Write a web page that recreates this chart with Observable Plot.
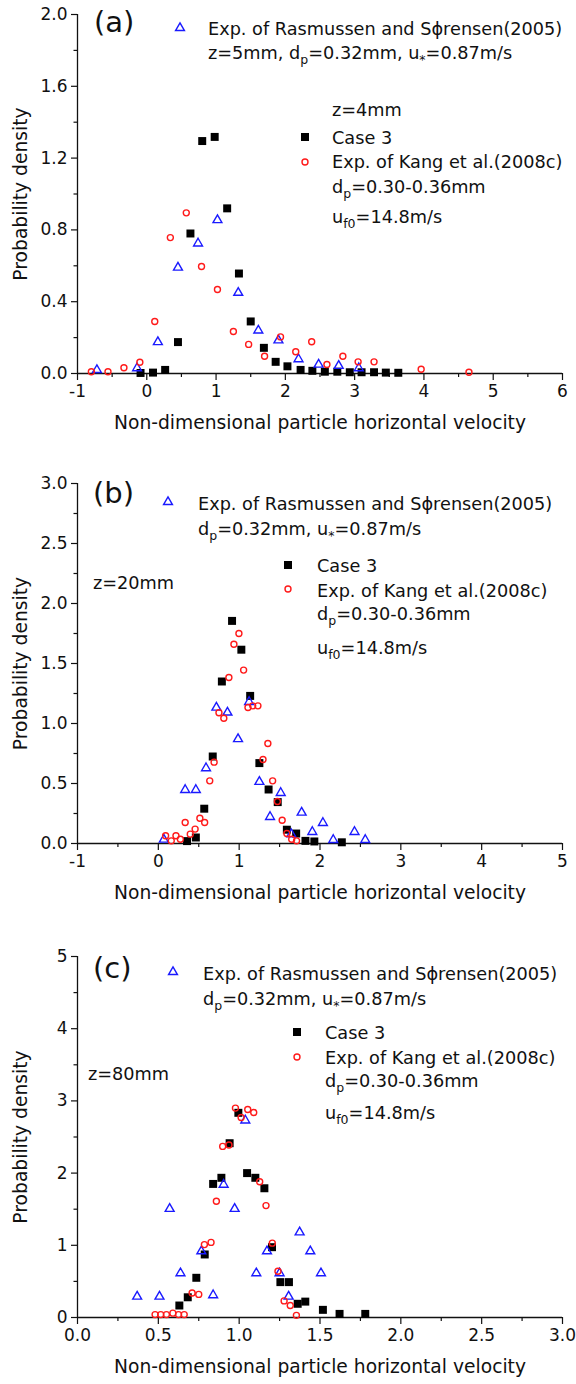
<!DOCTYPE html>
<html>
<head>
<meta charset="utf-8">
<script src="https://cdn.jsdelivr.net/npm/d3@7"></script>
<script src="https://cdn.jsdelivr.net/npm/@observablehq/plot@0.6"></script>
<style>
  html, body { margin: 0; padding: 0; background: white; }
  #chart svg { display: block; }
</style>
</head>
<body>
<div id="chart"></div>
<script>
// ---------------- Data ----------------
// Panel (a), z = 4 mm / 5 mm
const rasA_x = [-0.72, -0.14, 0.16, 0.45, 0.74, 1.02, 1.32, 1.61, 1.90, 2.19, 2.48, 2.77, 3.06];
const rasA_y = [0.02, 0.03, 0.175, 0.59, 0.725, 0.855, 0.45, 0.24, 0.185, 0.08, 0.05, 0.043, 0.03];
const caseA_x = [-0.09, 0.09, 0.265, 0.45, 0.63, 0.80, 0.98, 1.16, 1.33, 1.50, 1.69, 1.86, 2.03, 2.22, 2.39, 2.57, 2.75, 2.93, 3.10, 3.28, 3.45, 3.63];
const caseA_y = [0.003, 0.005, 0.02, 0.175, 0.78, 1.295, 1.318, 0.92, 0.557, 0.29, 0.143, 0.065, 0.04, 0.02, 0.015, 0.01, 0.01, 0.007, 0.007, 0.007, 0.005, 0.004];
const kangA_x = [-0.80, -0.56, -0.33, -0.10, 0.115, 0.34, 0.57, 0.79, 1.02, 1.25, 1.47, 1.70, 1.93, 2.15, 2.38, 2.60, 2.83, 3.05, 3.28, 3.96, 4.65];
const kangA_y = [0.01, 0.01, 0.032, 0.063, 0.29, 0.757, 0.895, 0.596, 0.468, 0.234, 0.162, 0.096, 0.204, 0.121, 0.177, 0.05, 0.096, 0.065, 0.065, 0.024, 0.007];

// Panel (b), z = 20 mm
const rasB_x = [0.068, 0.332, 0.464, 0.59, 0.718, 0.855, 0.986, 1.123, 1.25, 1.382, 1.514, 1.645, 1.773, 1.905, 2.036, 2.164, 2.427, 2.56];
const rasB_y = [0.033, 0.447, 0.447, 0.628, 1.133, 1.092, 0.87, 1.18, 0.514, 0.222, 0.422, 0.078, 0.258, 0.097, 0.172, 0.03, 0.097, 0.03];
const caseB_x = [0.355, 0.464, 0.568, 0.673, 0.786, 0.912, 1.027, 1.136, 1.25, 1.364, 1.477, 1.59, 1.705, 1.82, 1.93, 2.27];
const caseB_y = [0.02, 0.05, 0.29, 0.725, 1.35, 1.855, 1.615, 1.23, 0.67, 0.45, 0.345, 0.115, 0.083, 0.022, 0.017, 0.01];
const kangB_x = [0.09, 0.16, 0.218, 0.273, 0.332, 0.395, 0.455, 0.514, 0.573, 0.636, 0.69, 0.75, 0.81, 0.873, 0.935, 0.997, 1.055, 1.109, 1.168, 1.232, 1.295, 1.355, 1.414, 1.473, 1.532, 1.59, 1.65, 1.71];
const kangB_y = [0.064, 0.022, 0.064, 0.036, 0.175, 0.078, 0.12, 0.21, 0.175, 0.522, 0.678, 1.089, 1.044, 1.383, 1.66, 1.75, 1.445, 1.133, 1.147, 1.147, 0.70, 0.833, 0.522, 0.35, 0.194, 0.083, 0.036, 0.022];

// Panel (c), z = 80 mm
const rasC_x = [0.369, 0.507, 0.57, 0.637, 0.766, 0.839, 0.904, 0.972, 1.038, 1.106, 1.172, 1.25, 1.306, 1.374, 1.44, 1.506];
const rasC_y = [0.29, 0.29, 1.505, 0.614, 0.918, 0.31, 1.84, 1.505, 2.73, 0.614, 0.918, 0.614, 0.29, 1.18, 0.918, 0.614];
const caseC_x = [0.63, 0.682, 0.735, 0.787, 0.839, 0.89, 0.941, 0.995, 1.049, 1.10, 1.156, 1.203, 1.255, 1.308, 1.362, 1.409, 1.518, 1.621, 1.78];
const caseC_y = [0.166, 0.28, 0.55, 0.873, 1.85, 1.935, 2.414, 2.835, 2.0, 1.935, 1.79, 0.974, 0.49, 0.49, 0.19, 0.22, 0.106, 0.05, 0.05];
const kangC_x = [0.48, 0.515, 0.55, 0.59, 0.625, 0.66, 0.709, 0.75, 0.785, 0.826, 0.859, 0.898, 0.937, 0.977, 1.012, 1.053, 1.09, 1.127, 1.166, 1.205, 1.24, 1.278, 1.316, 1.354];
const kangC_y = [0.04, 0.04, 0.04, 0.06, 0.04, 0.04, 0.34, 0.32, 1.01, 1.04, 1.61, 2.37, 2.39, 2.9, 2.77, 2.88, 2.84, 1.88, 1.55, 1.03, 0.64, 0.23, 0.167, 0.03];

// Axis ticks
const xTicksA = [-1, 0, 1, 2, 3, 4, 5, 6];
const xMinorA = [-0.5, 0.5, 1.5, 2.5, 3.5, 4.5, 5.5];
const yTicksA = [0, 0.4, 0.8, 1.2, 1.6, 2.0];
const yMinorA = [0.2, 0.6, 1.0, 1.4, 1.8];
const xTicksB = [-1, 0, 1, 2, 3, 4, 5];
const xMinorB = [-0.5, 0.5, 1.5, 2.5, 3.5, 4.5];
const yTicksB = [0, 0.5, 1.0, 1.5, 2.0, 2.5, 3.0];
const yMinorB = [0.25, 0.75, 1.25, 1.75, 2.25, 2.75];
const xTicksC = [0, 0.5, 1.0, 1.5, 2.0, 2.5, 3.0];
const xMinorC = [0.25, 0.75, 1.25, 1.75, 2.25, 2.75];
const yTicksC = [0, 1, 2, 3, 4, 5];
const yMinorC = [0.5, 1.5, 2.5, 3.5, 4.5];

// Text
const xTitle = "Non-dimensional particle horizontal velocity";
const yTitle = "Probability density";
const rasLabel = "Exp. of Rasmussen and S\u03D5rensen(2005)";
const caseLabel = "Case 3";
const kangLabel = "Exp. of Kang et al.(2008c)";

// ---------------- Styling ----------------
const FONT = "DejaVu Sans";
const INK = "#111";
const BLUE = "#1a1aff";
const RED = "#ff1a1a";
const R_TRI = 3.3, R_CIR = 3.0, R_SQ = 4.5;

const zip = (xs, ys) => xs.map((x, i) => ({x, y: ys[i]}));
const fmtInt = d => String(d);            // plain hyphen minus, as in the reference
const fmt1 = d => d.toFixed(1);

function panel(o) {
  const svg = Plot.plot({
    width: 576,
    height: o.height,
    marginLeft: 77,
    marginRight: 14,
    marginTop: o.marginTop,
    marginBottom: o.marginBottom,
    x: {domain: o.xDomain},
    y: {domain: o.yDomain},
    style: {fontFamily: FONT, fontSize: "17px", color: INK, background: "white", overflow: "visible"},
    marks: [
      Plot.axisX(o.xTicks, {tickSize: 7, tickPadding: 4, tickFormat: o.xFmt, label: null, strokeWidth: 1.2, fontSize: 17}),
      Plot.axisX(o.xMinor, {tickSize: 4, fill: "none", label: null, strokeWidth: 1.2}),
      Plot.axisY(o.yTicks, {tickSize: 6, tickPadding: 4, tickFormat: o.yFmt, label: null, strokeWidth: 1.2, fontSize: 17}),
      Plot.axisY(o.yMinor, {tickSize: 3.5, fill: "none", label: null, strokeWidth: 1.2}),
      Plot.ruleX([o.xDomain[0]], {stroke: INK, strokeWidth: 1.3}),
      Plot.ruleY([o.yDomain[0]], {stroke: INK, strokeWidth: 1.3}),
      Plot.dot(o.cas, {x: "x", y: "y", symbol: "square", r: R_SQ, fill: "#000", stroke: "none"}),
      Plot.dot(o.ras, {x: "x", y: "y", symbol: "triangle", r: R_TRI, fill: "none", stroke: BLUE, strokeWidth: 1.4}),
      Plot.dot(o.kang, {x: "x", y: "y", symbol: "circle", r: R_CIR, fill: "none", stroke: RED, strokeWidth: 1.4}),
      Plot.text([xTitle], {text: d => d, frameAnchor: "bottom", dy: 50, lineAnchor: "middle", fontSize: 18.7, fill: INK}),
      Plot.text([yTitle], {text: d => d, frameAnchor: "left", dx: -56, rotate: -90, lineAnchor: "middle", textAnchor: "middle", fontSize: 18.7, fill: INK})
    ]
  });
  // legend / annotations
  const g = d3.select(svg).append("g")
    .attr("font-family", FONT).attr("fill", INK).attr("text-anchor", "start");
  g.append("text").attr("x", o.tag.x).attr("y", o.tag.y).attr("font-size", 29).text(o.tag.t);
  const sym = (type, r) => d3.symbol(type, r * r * Math.PI)();
  for (const m of o.markers) {
    if (m.kind === "tri") g.append("path").attr("transform", `translate(${m.x},${m.y})`).attr("d", sym(d3.symbolTriangle, R_TRI)).attr("fill", "none").attr("stroke", BLUE).attr("stroke-width", 1.4);
    if (m.kind === "sq") g.append("path").attr("transform", `translate(${m.x},${m.y})`).attr("d", sym(d3.symbolSquare, R_SQ)).attr("fill", "#000");
    if (m.kind === "cir") g.append("circle").attr("cx", m.x).attr("cy", m.y).attr("r", R_CIR).attr("fill", "none").attr("stroke", RED).attr("stroke-width", 1.4);
  }
  for (const l of o.lines) {
    const t = g.append("text").attr("x", l.x).attr("y", l.y).attr("font-size", 17.7);
    let shifted = false;
    for (const seg of l.segs) {
      if (typeof seg === "string") {
        const s = t.append("tspan").text(seg);
        if (shifted) { s.attr("dy", -5); shifted = false; }
      } else {
        t.append("tspan").attr("font-size", 12.5).attr("dy", shifted ? 0 : 5).text(seg.sub);
        shifted = true;
      }
    }
  }
  return svg;
}

const root = document.getElementById("chart");

// Panel (a)
root.appendChild(panel({
  height: 445, marginTop: 14, marginBottom: 72,
  xDomain: [-1, 6], yDomain: [0, 2.0],
  xTicks: xTicksA, xMinor: xMinorA, yTicks: yTicksA, yMinor: yMinorA,
  xFmt: fmtInt, yFmt: fmt1,
  ras: zip(rasA_x, rasA_y), cas: zip(caseA_x, caseA_y), kang: zip(kangA_x, kangA_y),
  tag: {t: "(a)", x: 94, y: 32},
  markers: [{kind: "tri", x: 180, y: 28}, {kind: "sq", x: 305, y: 137}, {kind: "cir", x: 305, y: 162}],
  lines: [
    {x: 208, y: 35, segs: [rasLabel]},
    {x: 208, y: 59, segs: ["z=5mm, d", {sub: "p"}, "=0.32mm, u", {sub: "*"}, "=0.87m/s"]},
    {x: 332, y: 116, segs: ["z=4mm"]},
    {x: 332, y: 144, segs: [caseLabel]},
    {x: 332, y: 168, segs: [kangLabel]},
    {x: 332, y: 193, segs: ["d", {sub: "p"}, "=0.30-0.36mm"]},
    {x: 332, y: 223, segs: ["u", {sub: "f0"}, "=14.8m/s"]}
  ]
}));

// Panel (b)
root.appendChild(panel({
  height: 470, marginTop: 38, marginBottom: 72,
  xDomain: [-1, 5], yDomain: [0, 3.0],
  xTicks: xTicksB, xMinor: xMinorB, yTicks: yTicksB, yMinor: yMinorB,
  xFmt: fmtInt, yFmt: fmt1,
  ras: zip(rasB_x, rasB_y), cas: zip(caseB_x, caseB_y), kang: zip(kangB_x, kangB_y),
  tag: {t: "(b)", x: 93, y: 58},
  markers: [{kind: "tri", x: 168, y: 57}, {kind: "sq", x: 288, y: 120}, {kind: "cir", x: 288, y: 144}],
  lines: [
    {x: 198, y: 64.5, segs: [rasLabel]},
    {x: 198, y: 89.5, segs: ["d", {sub: "p"}, "=0.32mm, u", {sub: "*"}, "=0.87m/s"]},
    {x: 93, y: 143.5, segs: ["z=20mm"]},
    {x: 317, y: 126.5, segs: [caseLabel]},
    {x: 317, y: 151.5, segs: [kangLabel]},
    {x: 317, y: 174.5, segs: ["d", {sub: "p"}, "=0.30-0.36mm"]},
    {x: 317, y: 208.5, segs: ["u", {sub: "f0"}, "=14.8m/s"]}
  ]
}));

// Panel (c)
root.appendChild(panel({
  height: 469, marginTop: 41, marginBottom: 67,
  xDomain: [0, 3.0], yDomain: [0, 5],
  xTicks: xTicksC, xMinor: xMinorC, yTicks: yTicksC, yMinor: yMinorC,
  xFmt: fmt1, yFmt: fmtInt,
  ras: zip(rasC_x, rasC_y), cas: zip(caseC_x, caseC_y), kang: zip(kangC_x, kangC_y),
  tag: {t: "(c)", x: 93, y: 63},
  markers: [{kind: "tri", x: 173, y: 57}, {kind: "sq", x: 297, y: 117}, {kind: "cir", x: 297, y: 142}],
  lines: [
    {x: 203, y: 64.5, segs: [rasLabel]},
    {x: 203, y: 89.5, segs: ["d", {sub: "p"}, "=0.32mm, u", {sub: "*"}, "=0.87m/s"]},
    {x: 88, y: 164.5, segs: ["z=80mm"]},
    {x: 325, y: 123.5, segs: [caseLabel]},
    {x: 325, y: 148.5, segs: [kangLabel]},
    {x: 325, y: 171.5, segs: ["d", {sub: "p"}, "=0.30-0.36mm"]},
    {x: 325, y: 203.5, segs: ["u", {sub: "f0"}, "=14.8m/s"]}
  ]
}));
</script>
</body>
</html>
